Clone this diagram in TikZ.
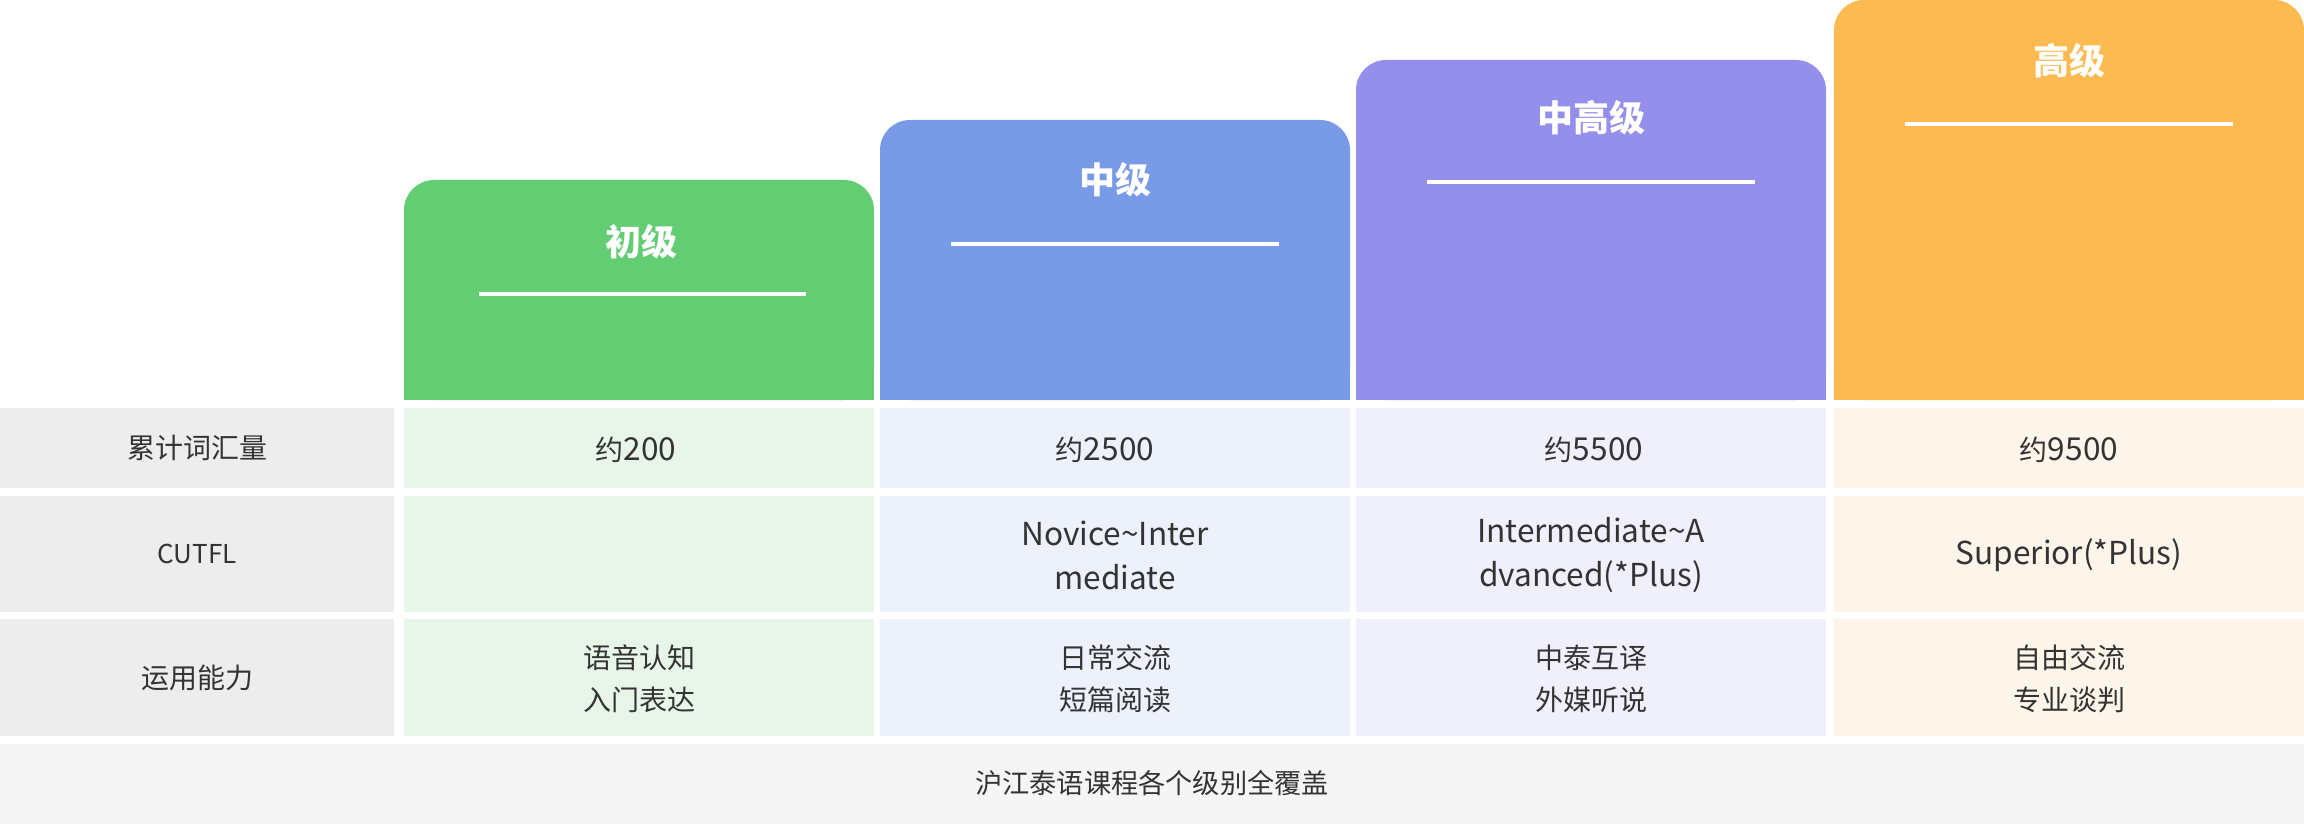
\documentclass[tikz,border=0pt]{standalone}
\usepackage{fontspec}
\setmainfont{Noto Sans CJK SC}
\definecolor{gHead}{HTML}{63CD73}
\definecolor{gCell}{HTML}{E8F6EA}
\definecolor{bHead}{HTML}{799AE7}
\definecolor{bCell}{HTML}{EDF1FC}
\definecolor{pHead}{HTML}{948FEB}
\definecolor{pCell}{HTML}{F0F0FC}
\definecolor{oHead}{HTML}{FDBA50}
\definecolor{oCell}{HTML}{FDF5EA}
\definecolor{labCell}{HTML}{EDEDED}
\definecolor{footCell}{HTML}{F5F5F5}
\definecolor{txt}{HTML}{333333}
\newcommand\latn[1]{{\fontsize{15.8}{22}\selectfont #1}}
\tikzset{
  celltext/.style={text=txt, font=\fontsize{14}{21}\selectfont, align=center, inner sep=0pt},
  lattext/.style={text=txt, font=\fontsize{15.8}{22}\selectfont, align=center, inner sep=0pt},
  labtext/.style={text=txt, font=\fontsize{14}{21}\selectfont, align=center, inner sep=0pt},
  foottext/.style={text=txt, font=\fontsize{13.6}{20}\selectfont, inner sep=0pt},
  headtext/.style={text=white, font=\fontsize{18}{22}\selectfont\bfseries, inner sep=0pt},
  headline/.style={draw=white, line width=2pt},
}
\begin{document}
\begin{tikzpicture}[x=0.5pt,y=-0.5pt]
\useasboundingbox (0,0) rectangle (2304,824);
% header blocks
\fill[gHead, rounded corners=15pt] (404,180) rectangle (874,400);
\fill[gHead] (404,300) rectangle (874,400);
\fill[bHead, rounded corners=15pt] (880,120) rectangle (1350,400);
\fill[bHead] (880,300) rectangle (1350,400);
\fill[pHead, rounded corners=15pt] (1356,60) rectangle (1826,400);
\fill[pHead] (1356,300) rectangle (1826,400);
\fill[oHead, rounded corners=15pt] (1834,0) rectangle (2304,400);
\fill[oHead] (1834,300) rectangle (2304,400);
% header titles
\node[headtext] (h1) at (641,242) {初级};
\node[headtext] (h2) at (1115,180) {中级};
\node[headtext] (h3) at (1591,118) {中高级};
\node[headtext] (h4) at (2069,61) {高级};
\draw[headline] (479,294) -- (806,294);
\draw[headline] (951,244) -- (1279,244);
\draw[headline] (1427,182) -- (1755,182);
\draw[headline] (1905,124) -- (2233,124);
% label column
\fill[labCell] (0,408) rectangle (394,488);
\fill[labCell] (0,496) rectangle (394,612);
\fill[labCell] (0,619) rectangle (394,736);
% cells
\fill[gCell] (404,408) rectangle (874,488);
\fill[gCell] (404,496) rectangle (874,612);
\fill[gCell] (404,619) rectangle (874,736);
\fill[bCell] (880,408) rectangle (1350,488);
\fill[bCell] (880,496) rectangle (1350,612);
\fill[bCell] (880,619) rectangle (1350,736);
\fill[pCell] (1356,408) rectangle (1826,488);
\fill[pCell] (1356,496) rectangle (1826,612);
\fill[pCell] (1356,619) rectangle (1826,736);
\fill[oCell] (1834,408) rectangle (2304,488);
\fill[oCell] (1834,496) rectangle (2304,612);
\fill[oCell] (1834,619) rectangle (2304,736);
% footer
\fill[footCell] (0,744) rectangle (2304,824);
% texts
\node[labtext] (l1) at (197,448) {累计词汇量};
\node[labtext, font=\fontsize{13}{20}\selectfont] (l2) at (197,554) {CUTFL};
\node[labtext] (l3) at (197,678) {运用能力};
\node[celltext] (v11) at (636,450) {约\latn{200}};
\node[celltext] (v12) at (1105,450) {约\latn{2500}};
\node[celltext] (v13) at (1594,450) {约\latn{5500}};
\node[celltext] (v14) at (2069,450) {约\latn{9500}};
\node[lattext] (v22) at (1115,555) {Novice\textasciitilde Inter\\mediate};
\node[lattext] (v23) at (1591,555) {Intermediate\textasciitilde A\\dvanced(*Plus)};
\node[lattext] (v24) at (2069,555) {Superior(*Plus)};
\node[celltext] (v31) at (639,679) {语音认知\\入门表达};
\node[celltext] (v32) at (1115,679) {日常交流\\短篇阅读};
\node[celltext] (v33) at (1591,679) {中泰互译\\外媒听说};
\node[celltext] (v34) at (2069,679) {自由交流\\专业谈判};
\node[foottext] (foot) at (1152,783) {沪江泰语课程各个级别全覆盖};
\end{tikzpicture}
\end{document}
